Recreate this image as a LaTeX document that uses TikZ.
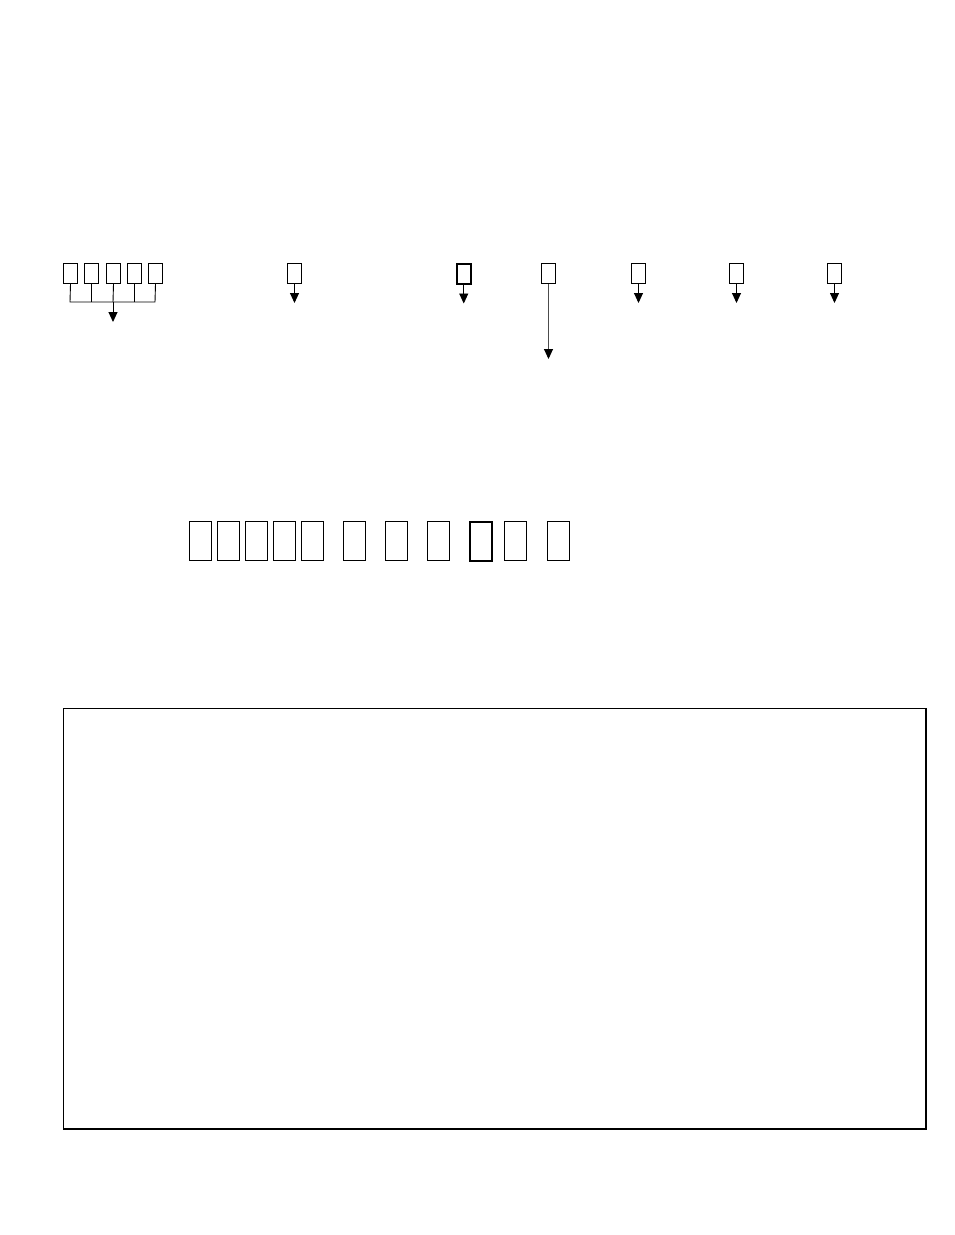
\documentclass[tikz,border=0pt]{standalone}
\usetikzlibrary{arrows.meta}
\begin{document}
\begin{tikzpicture}[x=1pt,y=-1pt,
  sbox/.style={draw,line width=1pt,minimum width=14pt,minimum height=20pt,inner sep=0pt,anchor=north west},
  bbox/.style={draw,line width=1.2pt,minimum width=22pt,minimum height=39pt,inner sep=0pt,anchor=north west},
  arr/.style={line width=0.9pt,-{Triangle[width=9pt,length=10pt,color=black]}},
  ln/.style={line width=0.9pt}]
\useasboundingbox (0,0) rectangle (954,1235);
% group of five
\foreach \i/\x in {1/63,2/84,3/106,4/127,5/148}{
  \node[sbox] (g\i) at (\x,263) {};
}
\coordinate (h1) at (70,302);
\coordinate (h5) at (155,302);
\coordinate (hm) at (113,302);
\coordinate (ht) at (113,322);
\draw[ln] (g1.south) -- (h1) -- (h5) -- (g5.south);
\draw[ln] (g2.south) -- (g2.south |- h1);
\draw[ln] (g3.south) -- (hm);
\draw[ln] (g4.south) -- (g4.south |- h1);
\draw[arr] (hm) -- (ht);
% singles
\node[sbox] (s1) at (287,263) {};
\node[sbox,line width=1.5pt] (s2) at (456,263) {};
\node[sbox] (s3) at (541,263) {};
\node[sbox] (s4) at (631,263) {};
\node[sbox] (s5) at (729,263) {};
\node[sbox] (s6) at (827,263) {};
\foreach \n in {s1,s2,s4,s5,s6}{
  \coordinate (\n t) at ([yshift=-19pt]\n.south);
  \draw[arr] (\n.south) -- (\n t);
}
\coordinate (s3t) at ([yshift=-75pt]s3.south);
\draw[arr,draw=black!70] (s3.south) -- (s3t);
% big row
\foreach \i/\x in {1/189,2/217,3/245,4/273,5/301,6/343,7/385,8/427,10/504,11/547}{
  \node[bbox] (b\i) at (\x,521) {};
}
\node[bbox,line width=1.5pt] (b9) at (469,521) {};
% frame
\node[draw,line width=1pt,minimum width=862pt,minimum height=420pt,inner sep=0pt,anchor=north west] (frame) at (63,708) {};
\draw[line width=1.6pt] (frame.north east) -- (frame.south east) -- (frame.south west);
\end{tikzpicture}
\end{document}
